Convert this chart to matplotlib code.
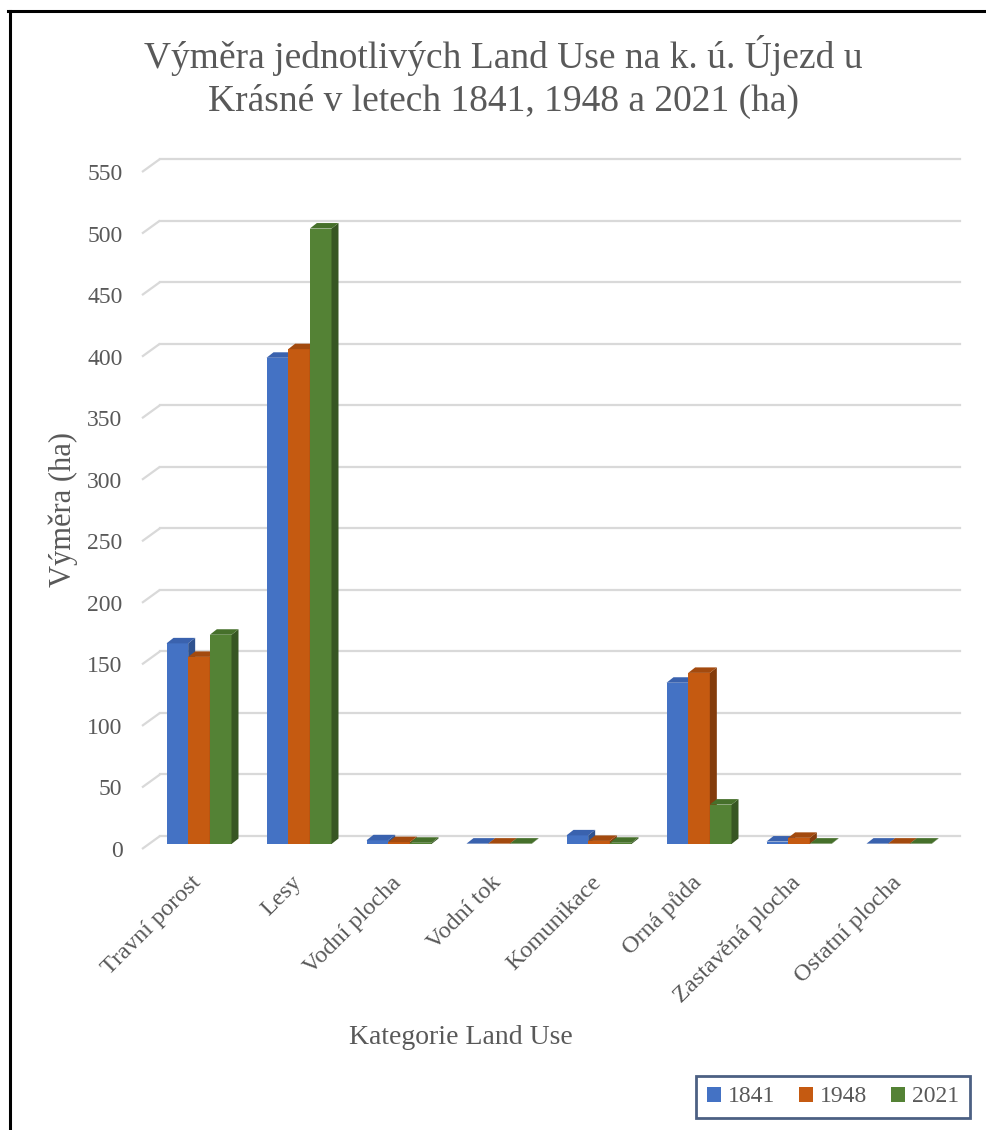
import matplotlib
matplotlib.use("Agg")
import matplotlib.pyplot as plt
import matplotlib.patches as mpatches
from matplotlib.lines import Line2D
import numpy as np

plt.rcParams["font.family"] = ["Liberation Serif", "DejaVu Serif"]

# ── Data ──────────────────────────────────────────────────────────────────────
categories = ["Travní porost", "Lesy", "Vodní plocha", "Vodní tok",
              "Komunikace", "Orná půda", "Zastavěná plocha", "Ostatní plocha"]
years = ["1841", "1948", "2021"]
v1841 = [163, 395, 3, 0.3, 7, 131, 2, 0.3]
v1948 = [152, 402, 1.5, 0.3, 2.5, 139, 5, 0.3]
v2021 = [170, 500, 1, 0.3, 1, 32, 0.3, 0.3]
yticks = list(range(0, 551, 50))

COLORS = ["#4472C4", "#C55A11", "#548235"]
SIDE = ["#2F528F", "#843C0C", "#375623"]
TOP = ["#3A62AE", "#A34A0E", "#46702B"]
GRID = "#D9D9D9"
TEXT = "#595959"

W, H = 986, 1130
fig = plt.figure(figsize=(W / 100, H / 100), dpi=100)

# plot area (front plane) in pixels
L, R, B, T = 142, 942, 849, 172
ax = fig.add_axes([L / W, 1 - B / H, (R - L) / W, (B - T) / H])
ax.set_xlim(-0.5, len(categories) - 0.5)
ax.set_ylim(0, 550)
for s in ax.spines.values():
    s.set_visible(False)

px_x = (R - L) / len(categories)     # pixels per category
px_y = (B - T) / 550                 # pixels per ha

def off(dx, dy):
    return dx / px_x, dy / px_y

back_dx, back_dy = off(18, 13)
bar_dx, bar_dy = off(7, 5)
dep_dx, dep_dy = off(7, 5.5)

# ── back wall gridlines ──
x0, x1 = -0.5, len(categories) - 0.5
for v in yticks:
    ax.plot([x0, x0 + back_dx], [v, v + back_dy], color=GRID, lw=1.6,
            clip_on=False, zorder=1, solid_capstyle="butt")
    ax.plot([x0 + back_dx, x1 + back_dx], [v + back_dy, v + back_dy],
            color=GRID, lw=1.6, clip_on=False, zorder=1)

# ── 3D-ish bars ──
series = [v1841, v1948, v2021]
bw = 0.65 / 3
xc = np.arange(len(categories))
for i, vals in enumerate(series):
    for c, v in zip(xc, vals):
        left = c - 1.5 * bw + i * bw + bar_dx
        right = left + bw
        base = bar_dy
        top = v + bar_dy
        z = 3 + i * 0.1
        ax.add_patch(mpatches.Rectangle((left, base), bw, v, facecolor=COLORS[i],
                                        edgecolor="none", zorder=z, clip_on=False))
        ax.add_patch(mpatches.Polygon([(right, base), (right + dep_dx, base + dep_dy),
                                       (right + dep_dx, top + dep_dy), (right, top)],
                                      closed=True, facecolor=SIDE[i], edgecolor="none",
                                      zorder=z, clip_on=False))
        ax.add_patch(mpatches.Polygon([(left, top), (right, top),
                                       (right + dep_dx, top + dep_dy),
                                       (left + dep_dx, top + dep_dy)],
                                      closed=True, facecolor=TOP[i], edgecolor="none",
                                      zorder=z, clip_on=False))

ax.set_yticks(yticks)
ax.set_yticklabels([str(v) for v in yticks], fontsize=17, color=TEXT)
ax.set_xticks(xc + 0.06)
ax.set_xticklabels(categories, fontsize=17.5, color=TEXT, rotation=45,
                   ha="right", va="center", rotation_mode="anchor")
ax.tick_params(axis="y", length=0, pad=14)
ax.tick_params(axis="x", length=0, pad=22)

# ── texts ──
fig.text(503 / W, 1 - 77 / H,
         "Výměra jednotlivých Land Use na k. ú. Újezd u\nKrásné v letech 1841, 1948 a 2021 (ha)",
         ha="center", va="center", fontsize=27, color=TEXT, linespacing=1.3)
fig.text(63 / W, 1 - 509 / H, "Výměra (ha)", rotation=90, ha="center", va="center",
         fontsize=22, color=TEXT)
fig.text(461 / W, 1 - 1037 / H, "Kategorie Land Use", ha="center", va="center",
         fontsize=20, color=TEXT)

# ── legend ──
handles = [mpatches.Patch(facecolor=c, edgecolor="none") for c in COLORS]
leg = fig.legend(handles, years, loc="center", bbox_to_anchor=(833 / W, 1 - 1097 / H),
                 ncol=3, frameon=True, fancybox=False, edgecolor="#1F3864",
                 handlelength=0.6, handleheight=0.6, handletextpad=0.3,
                 columnspacing=1.0, borderpad=0.45, prop={"size": 17})
leg.get_frame().set_linewidth(2)
for t in leg.get_texts():
    t.set_color(TEXT)

# ── outer frame ──
fig.add_artist(Line2D([8 / W, 1], [1 - 11 / H, 1 - 11 / H], color="black", lw=2.2,
                      transform=fig.transFigure))
fig.add_artist(Line2D([9.5 / W, 9.5 / W], [0, 1 - 11 / H], color="black", lw=2.2,
                      transform=fig.transFigure))

fig.savefig("out.png", dpi=100)
